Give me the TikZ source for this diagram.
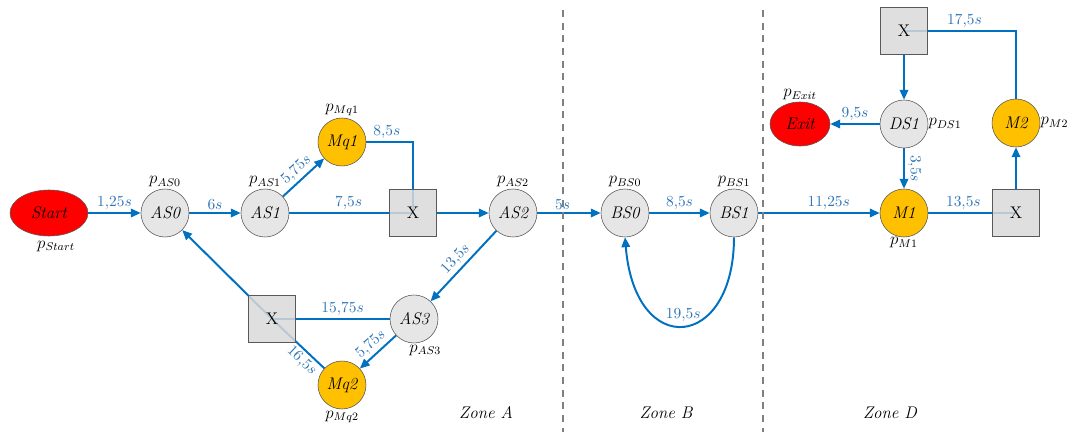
\documentclass[tikz,border=0pt]{standalone}
\usepackage{tikz}
\usetikzlibrary{arrows.meta, shapes.geometric, backgrounds}
\definecolor{flow_blue}{RGB}{0, 112, 192}
\definecolor{lbl_blue}{RGB}{46, 117, 182}
\definecolor{mq_orange}{RGB}{255, 192, 0}
\definecolor{node_grey}{RGB}{230, 230, 230}

\begin{document}
\begin{tikzpicture}[>={Triangle[length=7pt, width=6pt]}, font=\large,
      st/.style={draw=black!65, circle, fill=node_grey, minimum size=1.2cm, inner sep=0pt,
        font=\large\itshape},
      mq/.style={st, fill=mq_orange},
      term/.style={draw=black!65, ellipse, fill=red, inner sep=0pt, font=\large\itshape},
      xor/.style={draw=black!65, fill=black!15, fill opacity=0.85, text opacity=1,
        minimum size=1.175cm, inner sep=0pt},
      plab/.style={inner sep=1pt, font=\large},
      flow/.style={draw=flow_blue, line width=1.4pt},
      elab/.style={text=lbl_blue, font=\fontsize{11}{13}\selectfont, inner sep=2pt},
      zone/.style={draw=black!50, line width=1.4pt, dash pattern=on 5pt off 4pt}]
    \useasboundingbox (0,0) rectangle (26.85,-10.8);
    % zone borders
    \draw[zone] (14.075,-0.25) -- (14.075,-10.8);
    \draw[zone] (19.075,-0.25) -- (19.075,-10.8);
    \node[font=\large\itshape] (zA) at (12.15,-10.325) {Zone A};
    \node[font=\large\itshape] (zB) at (16.65,-10.325) {Zone B};
    \node[font=\large\itshape] (zD) at (22.25,-10.325) {Zone D};
    % zone A
    \node[term, minimum width=1.95cm, minimum height=1.15cm,
          label={[plab, xshift=5pt, yshift=-2pt]below:$p_{Start}$}] (Start) at (1.225,-5.325) {Start};
    \node[st, label={[plab]above:$p_{AS0}$}] (AS0) at (4.125,-5.325) {AS0};
    \node[st, label={[plab]above:$p_{AS1}$}] (AS1) at (6.625,-5.325) {AS1};
    \node[mq, label={[plab]above:$p_{Mq1}$}] (Mq1) at (8.55,-3.55) {Mq1};
    \node[xor] (xa) at (10.325,-5.325) {X};
    \node[st, label={[plab]above:$p_{AS2}$}] (AS2) at (12.825,-5.325) {AS2};
    \node[st, label={[plab, xshift=8pt]below:$p_{AS3}$}] (AS3) at (10.35,-7.975) {AS3};
    \node[xor] (xb) at (6.8,-7.975) {X};
    \node[mq, label={[plab]below:$p_{Mq2}$}] (Mq2) at (8.55,-9.625) {Mq2};
    % zone B
    \node[st, label={[plab]above:$p_{BS0}$}] (BS0) at (15.625,-5.325) {BS0};
    \node[st, label={[plab]above:$p_{BS1}$}] (BS1) at (18.35,-5.325) {BS1};
    % zone D
    \node[mq, label={[plab, inner sep=0pt]below:$p_{M1}$}] (M1) at (22.6,-5.325) {M1};
    \node[xor] (xc) at (25.4,-5.325) {X};
    \node[mq, label={[plab, inner sep=0pt]right:$p_{M2}$}] (M2) at (25.4,-3.075) {M2};
    \node[xor] (xd) at (22.6,-0.775) {X};
    \node[st, label={[plab, inner sep=0pt]right:$p_{DS1}$}] (DS1) at (22.6,-3.1) {DS1};
    \node[term, minimum width=1.5cm, minimum height=1.1cm,
          label={[plab]above:$p_{Exit}$}] (Exit) at (20.0,-3.1) {Exit};
    % transitions
    \begin{scope}[on background layer]
      \draw[flow, ->] (Start) -- node[elab, above]{$1{,}25s$} (AS0);
      \draw[flow, ->] (AS0) -- node[elab, above]{$6s$} (AS1);
      \draw[flow, ->] (AS1) -- node[elab, above, sloped]{$5{,}75s$} (Mq1);
      \draw[flow] (Mq1) -| node[elab, above, pos=0.22]{$8{,}5s$} (xa.center);
      \draw[flow] (AS1) -- node[elab, above, pos=0.48]{$7{,}5s$} (xa.center);
      \draw[flow, ->] (xa) -- (AS2);
      \draw[flow, ->] (AS2) -- node[elab, above, sloped]{$13{,}5s$} (AS3);
      \draw[flow] (AS3) -- node[elab, above, pos=0.4]{$15{,}75s$} (xb.center);
      \draw[flow, ->] (AS3) -- node[elab, above, sloped]{$5{,}75s$} (Mq2);
      \draw[flow] (Mq2) -- node[elab, below, sloped, pos=0.3]{$16{,}5s$} (xb.center);
      \draw[flow, ->] (xb.center) -- (AS0);
      \draw[flow, ->] (AS2) -- node[elab, above, pos=0.4]{$5s$} (BS0);
      \draw[flow, ->] (BS0) -- node[elab, above]{$8{,}5s$} (BS1);
      \draw[flow, ->] (BS1.south) .. controls +(0,-2.825) and +(0.25,-3.075) ..
        node[elab, above]{$19{,}5s$} (BS0.south);
      \draw[flow, ->] (BS1) -- node[elab, above, pos=0.58]{$11{,}25s$} (M1);
      \draw[flow] (M1) -- node[elab, above, pos=0.4]{$13{,}5s$} (xc.center);
      \draw[flow, ->] (xc) -- (M2);
      \draw[flow] (M2) |- node[elab, above, pos=0.73]{$17{,}5s$} (xd.center);
      \draw[flow, ->] (xd) -- (DS1);
      \draw[flow, ->] (DS1) -- node[elab, above]{$9{,}5s$} (Exit);
      \draw[flow, ->] (DS1) -- node[elab, above, sloped]{$3{,}5s$} (M1);
    \end{scope}
  \end{tikzpicture}
\end{document}
